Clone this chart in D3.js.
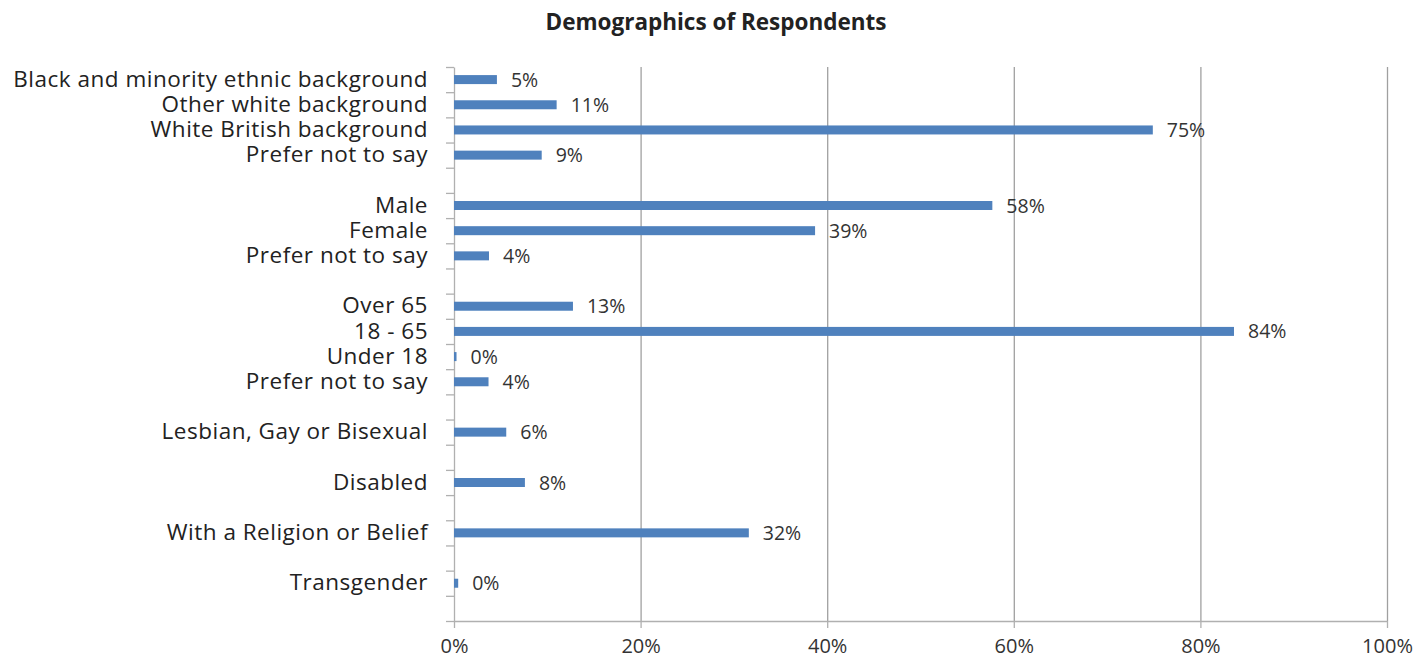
<!DOCTYPE html>
<html>
<head>
<meta charset="utf-8">
<script src="https://cdn.jsdelivr.net/npm/d3@7"></script>
<style>
  body { margin: 0; background: #fff; }
  svg text { font-family: "Open Sans", Lato, sans-serif; fill: #222; }
  .grid line { stroke: #a0a0a0; stroke-width: 1.3; }
  .axis path, .axis line { stroke: #b0b0b0; stroke-width: 1.3; }
</style>
</head>
<body>
<svg id="canvas" width="1416" height="659"></svg>
<script>
// rows from top to bottom, "" = empty spacer row
const categories = [
    "Black and minority ethnic background",
    "Other white background",
    "White British background",
    "Prefer not to say",
    "",
    "Male",
    "Female",
    "Prefer not to say",
    "",
    "Over 65",
    "18 - 65",
    "Under 18",
    "Prefer not to say",
    "",
    "Lesbian, Gay or Bisexual",
    "",
    "Disabled",
    "",
    "With a Religion or Belief",
    "",
    "Transgender",
    ""
];
const values = [
    0.046, 0.110, 0.749, 0.094, null,
    0.577, 0.387, 0.0375, null,
    0.1275, 0.836, 0.0027, 0.037, null,
    0.056, null,
    0.076, null,
    0.316, null,
    0.0045, null
];
const xTicks = [0, 0.2, 0.4, 0.6, 0.8, 1.0];

const canvas = d3.select("#canvas");
const margin = { left: 454, right: 29, top: 67, bottom: 38 };
const width = 1416 - margin.left - margin.right;
const height = 659 - margin.top - margin.bottom;

const x = d3.scaleLinear().domain([0, 1]).range([0, width]);
const y = d3.scaleBand().domain(d3.range(categories.length)).range([0, height]);
const yEdges = d3.scaleLinear().domain([0, categories.length]).range([0, height]);
const fmt = d3.format(".0%");

canvas.append("text")
    .attr("x", 716)
    .attr("y", 30)
    .attr("text-anchor", "middle")
    .style("font-size", "22.5px")
    .style("font-weight", "bold")
    .text("Demographics of Respondents");

const g = canvas.append("g").attr("transform", `translate(${margin.left},${margin.top})`);

// vertical gridlines
g.append("g")
    .attr("class", "grid")
    .call(d3.axisBottom(x).tickValues(xTicks.slice(1)).tickSize(height).tickFormat(""))
    .call(a => a.select(".domain").remove());

// x axis
g.append("g")
    .attr("class", "axis")
    .attr("transform", `translate(0,${height})`)
    .call(d3.axisBottom(x).tickValues(xTicks).tickSize(7).tickSizeOuter(0).tickPadding(11).tickFormat(d3.format(".0%")))
    .call(a => a.selectAll("text").style("font-size", "20px").style("fill", "#333"));

// y axis with ticks between categories
g.append("g")
    .attr("class", "axis")
    .call(d3.axisLeft(yEdges).tickValues(d3.range(categories.length + 1)).tickSize(8).tickSizeOuter(0).tickFormat(""));

// category labels
g.append("g")
    .call(d3.axisLeft(y).tickSize(0).tickPadding(26).tickFormat(i => categories[i]))
    .call(a => a.select(".domain").remove())
    .call(a => a.selectAll("text").style("font-size", "22.5px").style("letter-spacing", "0.5px"));

const rows = values.map((v, i) => ({ i, v })).filter(d => d.v !== null);

// bars
g.selectAll("rect.bar")
    .data(rows)
    .enter()
    .append("rect")
    .attr("class", "bar")
    .attr("x", 0)
    .attr("y", d => y(d.i) + y.bandwidth() / 2 - 4.5)
    .attr("height", 9)
    .attr("width", d => Math.max(x(d.v), 1.5))
    .attr("fill", "#4f81bd");

// value labels
g.selectAll("text.val")
    .data(rows)
    .enter()
    .append("text")
    .attr("class", "val")
    .attr("x", d => x(d.v) + 14)
    .attr("y", d => y(d.i) + y.bandwidth() / 2)
    .attr("dy", "0.36em")
    .style("font-size", "19.5px")
    .style("fill", "#333")
    .text(d => fmt(d.v));
</script>
</body>
</html>
